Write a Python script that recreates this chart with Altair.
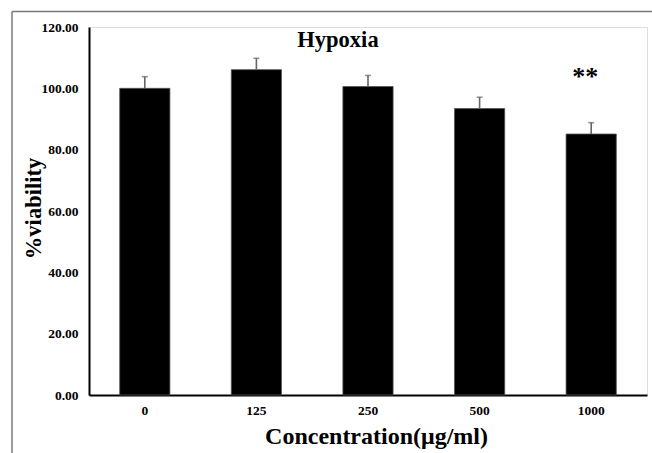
import altair as alt
import pandas as pd

concentrations = ["0", "125", "250", "500", "1000"]
viability = [100.0, 106.1, 100.6, 93.4, 85.1]
errors = [3.8, 3.7, 3.6, 3.7, 3.7]
sig_labels = ["", "", "", "", "**"]
sig_y = [None, None, None, None, 101.0]
chart_title = ["Hypoxia"]

df = pd.DataFrame({
    "conc": concentrations,
    "v": viability,
    "err_top": [v + e for v, e in zip(viability, errors)],
    "sig": sig_labels,
    "sig_y": sig_y,
})

FONT = "'Liberation Serif', 'Times New Roman', serif"

x_enc = alt.X(
    "conc:N",
    sort=concentrations,
    scale=alt.Scale(paddingInner=0.55, paddingOuter=0.275),
    axis=alt.Axis(
        title="Concentration(μg/ml)",
        labelAngle=0,
        labelFont=FONT, labelFontWeight="bold", labelFontSize=13.5, labelColor="black",
        labelPadding=8, labelBaseline="top",
        ticks=False, domainColor="black", domainWidth=2,
        titleFont=FONT, titleFontWeight="bold", titleFontSize=24, titleColor="black",
        titleX=287, titleY=48, titleBaseline="alphabetic", titleAlign="center",
    ),
)
y_scale = alt.Scale(domain=[0, 120])
y_axis = alt.Axis(
    title="%viability",
    values=[0, 20, 40, 60, 80, 100, 120], format=".2f",
    grid=False, ticks=False, domainColor="black", domainWidth=2,
    labelFont=FONT, labelFontWeight="bold", labelFontSize=13.5, labelColor="black",
    labelPadding=11,
    titleFont=FONT, titleFontWeight="bold", titleFontSize=22.5, titleColor="black",
    titleX=-49, titleY=181, titleBaseline="alphabetic", titleAlign="center", titleAngle=-90,
)

base = alt.Chart(df)

bars = base.mark_bar(color="black", stroke="#555555", strokeWidth=0.8).encode(
    x=x_enc,
    y=alt.Y("v:Q", scale=y_scale, axis=y_axis),
)

err = base.mark_rule(color="#666666", strokeWidth=1.6).encode(
    x=alt.X("conc:N", sort=concentrations),
    y="v:Q",
    y2="err_top:Q",
)
caps = base.mark_tick(color="#666666", thickness=1.6, size=6, orient="horizontal").encode(
    x=alt.X("conc:N", sort=concentrations),
    y="err_top:Q",
)
stars = base.mark_text(
    font=FONT, fontWeight="bold", fontSize=26, color="black",
    baseline="alphabetic", align="center", dx=-6,
).encode(
    x=alt.X("conc:N", sort=concentrations),
    y="sig_y:Q",
    text="sig:N",
)

title_df = pd.DataFrame({"t": chart_title})
title_mark = alt.Chart(title_df).mark_text(
    font=FONT, fontWeight="bold", fontSize=22.5, color="black",
    baseline="alphabetic", align="center",
).encode(x=alt.value(249), y=alt.value(20), text="t:N")

frame_df = pd.DataFrame({"k": [0]})
frame_top = alt.Chart(frame_df).mark_rule(color="#7a7a7a", strokeWidth=1.5).encode(
    x=alt.value(-77), x2=alt.value(570), y=alt.value(-15.5)
)
frame_left = alt.Chart(frame_df).mark_rule(color="#7a7a7a", strokeWidth=1.5).encode(
    x=alt.value(-77), y=alt.value(-15.5), y2=alt.value(440)
)

chart = alt.layer(frame_top, frame_left, bars, err, caps, stars, title_mark).properties(
    width=558,
    height=368,
    autosize=alt.AutoSizeParams(type="none"),
    padding={"left": 89, "top": 27, "right": 5, "bottom": 58},
).configure_view(stroke=None).configure(background="white")

chart.save("out.html", embed_options={"renderer": "svg", "actions": False})
